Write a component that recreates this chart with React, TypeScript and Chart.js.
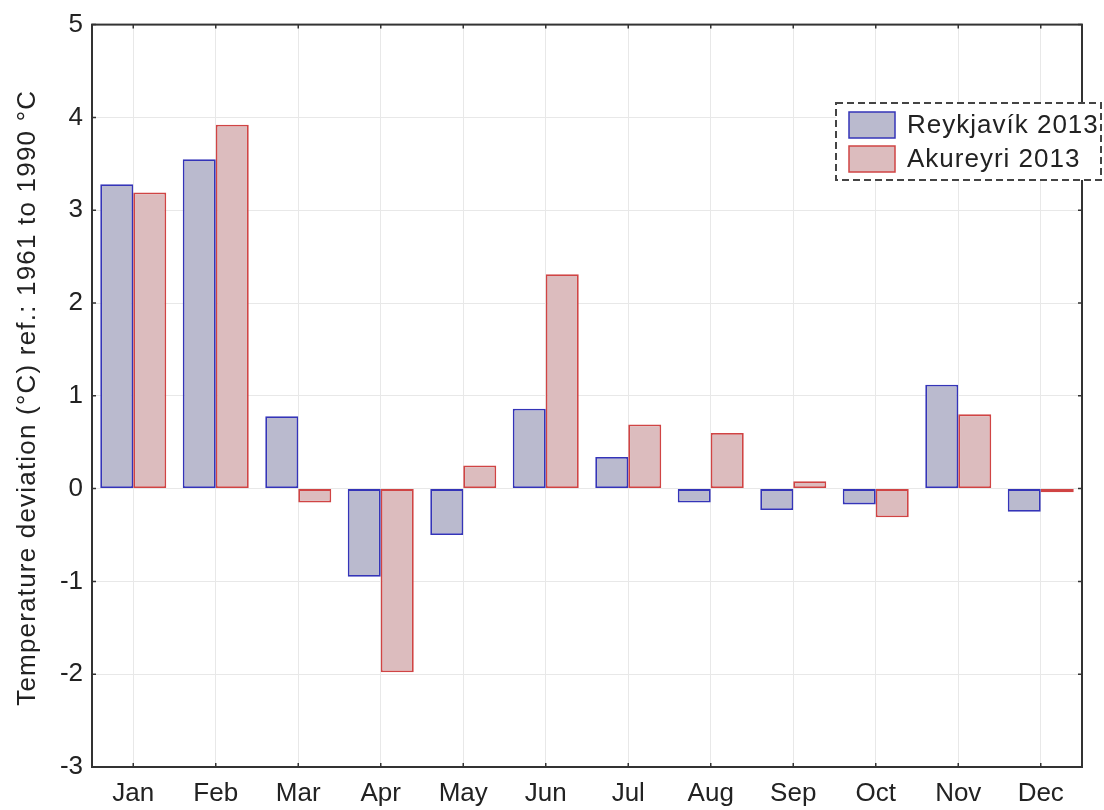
import React, { useEffect, useRef } from "react";
import { Chart, registerables } from "chart.js";

Chart.register(...registerables);

const months = ["Jan", "Feb", "Mar", "Apr", "May", "Jun", "Jul", "Aug", "Sep", "Oct", "Nov", "Dec"];
const reykjavik = [3.28, 3.55, 0.78, -0.95, -0.5, 0.86, 0.34, -0.15, -0.23, -0.17, 1.12, -0.25];
const akureyri = [3.19, 3.92, -0.15, -1.98, 0.25, 2.31, 0.69, 0.6, 0.08, -0.31, 0.8, -0.04];
const seriesNames = ["Reykjavík 2013", "Akureyri 2013"];
const yMin = -3;
const yMax = 5;
const yStep = 1;
const yTitle = "Temperature deviation (°C) ref.: 1961 to 1990 °C";

const FONT = "'Liberation Sans', Arial, sans-serif";

const framePlugin = {
  id: "frame",
  afterDraw(chart: any) {
    const { ctx, chartArea } = chart;
    const { left, right, top, bottom } = chartArea;
    ctx.save();
    ctx.strokeStyle = "#333";
    ctx.lineWidth = 2;
    ctx.strokeRect(left, top, right - left, bottom - top);
    ctx.lineWidth = 1.5;
    const y = chart.scales.y;
    y.ticks.forEach((t: any) => {
      const py = y.getPixelForValue(t.value);
      ctx.beginPath();
      ctx.moveTo(left, py);
      ctx.lineTo(left + 4, py);
      ctx.moveTo(right, py);
      ctx.lineTo(right - 4, py);
      ctx.stroke();
    });
    const x = chart.scales.x;
    months.forEach((_, i) => {
      const px = x.getPixelForValue(i);
      ctx.beginPath();
      ctx.moveTo(px, top);
      ctx.lineTo(px, top + 4);
      ctx.moveTo(px, bottom);
      ctx.lineTo(px, bottom - 4);
      ctx.stroke();
    });
    // y-axis title
    ctx.translate(28, (top + bottom) / 2 + 2);
    ctx.rotate(-Math.PI / 2);
    ctx.fillStyle = "#222";
    ctx.font = `26px ${FONT}`;
    (ctx as any).letterSpacing = "1.2px";
    ctx.textAlign = "center";
    ctx.textBaseline = "middle";
    ctx.fillText(yTitle, 0, 0);
    ctx.restore();
  },
};

const legendPlugin = {
  id: "dashLegend",
  afterDraw(chart: any) {
    const { ctx } = chart;
    ctx.save();
    const bx = 836, by = 103, bw = 265, bh = 77;
    ctx.fillStyle = "#ffffff";
    ctx.fillRect(bx, by, bw, bh);
    ctx.setLineDash([7, 4]);
    ctx.strokeStyle = "#444";
    ctx.lineWidth = 2;
    ctx.strokeRect(bx, by, bw, bh);
    ctx.setLineDash([]);
    chart.data.datasets.forEach((ds: any, i: number) => {
      const sy = 112 + i * 34;
      ctx.fillStyle = ds.backgroundColor;
      ctx.fillRect(849, sy, 46, 26);
      ctx.strokeStyle = ds.borderColor;
      ctx.lineWidth = 1.5;
      ctx.strokeRect(849, sy, 46, 26);
      ctx.fillStyle = "#222";
      ctx.font = `26px ${FONT}`;
      (ctx as any).letterSpacing = "1px";
      ctx.textBaseline = "middle";
      ctx.textAlign = "left";
      ctx.fillText(ds.label, 907, sy + 14);
    });
    ctx.restore();
  },
};

export default function App() {
  const ref = useRef<HTMLCanvasElement | null>(null);
  useEffect(() => {
    document.body.style.margin = "0";
    const chart = new Chart(ref.current as HTMLCanvasElement, {
      type: "bar",
      data: {
        labels: months,
        datasets: [
          {
            label: seriesNames[0],
            data: reykjavik,
            backgroundColor: "#babace",
            borderColor: "#3434b8",
            borderWidth: 1.8,
            borderSkipped: false,
          },
          {
            label: seriesNames[1],
            data: akureyri,
            backgroundColor: "#dcbcbe",
            borderColor: "#d04444",
            borderWidth: 1.8,
            borderSkipped: false,
          },
        ],
      },
      options: {
        animation: false,
        responsive: false,
        maintainAspectRatio: false,
        layout: { padding: { top: 23, right: 22, left: 0, bottom: 0 } },
        datasets: { bar: { categoryPercentage: 0.8, barPercentage: 1 } },
        plugins: { legend: { display: false }, tooltip: { enabled: false } },
        scales: {
          x: {
            grid: { offset: false, color: "#e8e8e8", drawTicks: false },
            border: { display: false },
            ticks: { font: { size: 26, family: FONT }, color: "#222", padding: 11 },
            afterFit: (s: any) => {
              s.height = 43;
            },
          },
          y: {
            min: yMin,
            max: yMax,
            grid: { color: "#e8e8e8", drawTicks: false },
            border: { display: false },
            ticks: { stepSize: yStep, font: { size: 26, family: FONT }, color: "#222", padding: 9 },
            afterFit: (s: any) => {
              s.width = 92;
            },
          },
        },
      },
      plugins: [framePlugin, legendPlugin],
    } as any);
    return () => chart.destroy();
  }, []);
  return (
    <div style={{ position: "absolute", left: 0, top: 0, width: 1104, height: 810, background: "#fff" }}>
      <canvas ref={ref} width={1104} height={810} style={{ width: 1104, height: 810 }} />
    </div>
  );
}
